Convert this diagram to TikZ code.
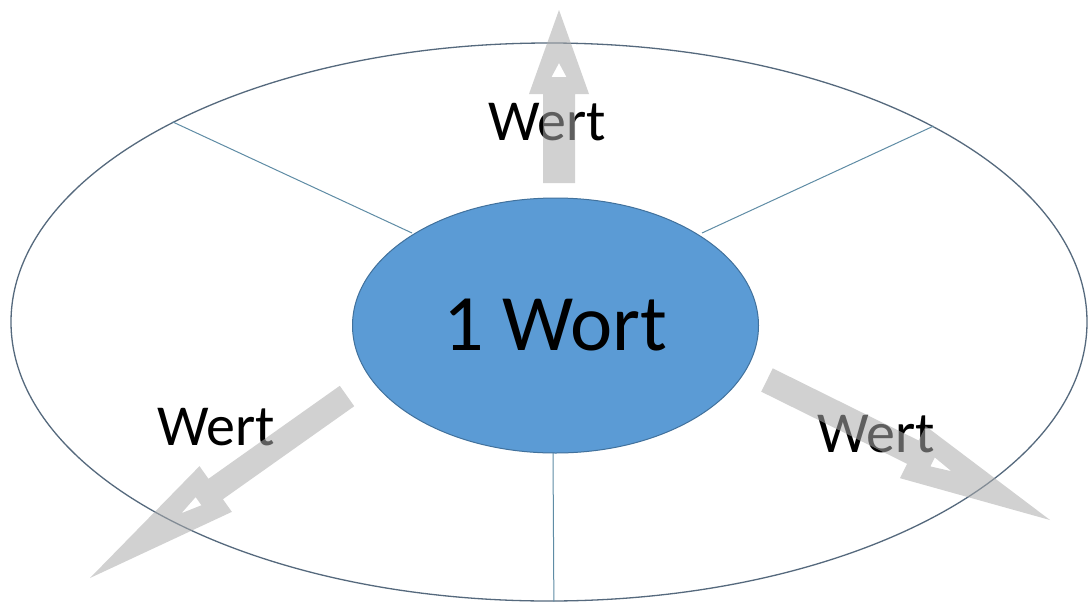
\documentclass[tikz,border=0pt]{standalone}
\usepackage{fontspec}
\setmainfont{Carlito}
\usetikzlibrary{calc,shapes.geometric}
\definecolor{innerblue}{RGB}{91,155,213}
\definecolor{inneredge}{RGB}{65,113,156}
\definecolor{outeredge}{RGB}{85,105,125}
\definecolor{divline}{RGB}{95,140,165}
\definecolor{arrowgray}{RGB}{172,172,172}
% #1 tail, #2 tip, #3 shaft half width, #4 head length, #5 head half width,
% #6 hole tip dist from tip, #7 hole base dist from tip, #8 hole half width
\newcommand{\grayarrow}[8]{%
  \coordinate (hb) at ($(#2)!#4!(#1)$);
  \coordinate (ht) at ($(#2)!#6!(#1)$);
  \coordinate (hh) at ($(#2)!#7!(#1)$);
  \fill[arrowstyle]
    ($(#1)!#3!90:(#2)$) -- ($(hb)!#3!90:(#2)$) -- ($(hb)!#5!90:(#2)$) -- (#2)
    -- ($(hb)!#5!-90:(#2)$) -- ($(hb)!#3!-90:(#2)$) -- ($(#1)!#3!-90:(#2)$) -- cycle
    (ht) -- ($(hh)!#8!90:(#2)$) -- ($(hh)!#8!-90:(#2)$) -- cycle;
}
\begin{document}
\begin{tikzpicture}[x=1pt,y=-1pt,
  arrowstyle/.style={fill=arrowgray,fill opacity=0.55,even odd rule},
  wertlabel/.style={anchor=base,inner sep=0pt,font=\fontsize{58}{58}\selectfont},
  divider/.style={draw=divline,line width=1pt}]
\fill[white] (0,0) rectangle (1090,603);
\useasboundingbox (0,0) rectangle (1090,603);
\node[ellipse,draw=outeredge,line width=1.3pt,inner sep=0pt,
  minimum width=1076pt,minimum height=558pt] (outer) at (549,322) {};
\draw[divider] (outer.152.5) -- (412,233) coordinate (ulin);
\draw[divider] (outer.27) -- (702,233) coordinate (urin);
\draw[divider] (outer.-89.2) -- (553,453) coordinate (botin);
\node[ellipse,draw=inneredge,fill=innerblue,line width=1pt,inner sep=0pt,
  minimum width=406pt,minimum height=255pt,
  font=\fontsize{80}{80}\selectfont] (inner) at (555.5,325.5) {1 Wort};
\node[wertlabel] (wtop) at (547,140) {Wert};
\node[wertlabel] (wleft) at (216,445) {Wert};
\node[wertlabel] (wright) at (876,452) {Wert};
\coordinate (ttail) at (559,183);
\coordinate (ttip) at (559,10);
\coordinate (rtail) at (767,380);
\coordinate (rtip) at (1050,520);
\coordinate (ltail) at (347,396);
\coordinate (ltip) at (90,578);
\grayarrow{ttail}{ttip}{16pt}{84pt}{30pt}{53pt}{67pt}{7.5pt}
\grayarrow{rtail}{rtip}{13pt}{153pt}{29pt}{110pt}{131pt}{5pt}
\grayarrow{ltail}{ltip}{12.5pt}{154pt}{28pt}{112pt}{133pt}{5pt}
\end{tikzpicture}
\end{document}
